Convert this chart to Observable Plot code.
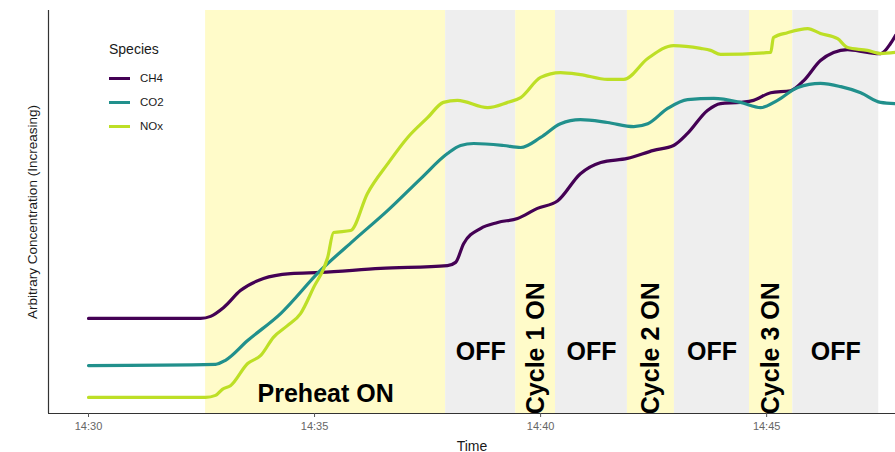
<!DOCTYPE html>
<html>
<head>
<meta charset="utf-8">
<script src="https://cdn.jsdelivr.net/npm/d3@7"></script>
<script src="https://cdn.jsdelivr.net/npm/@observablehq/plot@0.6"></script>
<style>
  html, body { margin: 0; padding: 0; background: #fff; }
  #wrap { position: relative; width: 895px; height: 452px; overflow: hidden; font-family: "Liberation Sans", Arial, sans-serif; }
  #legend { position: absolute; left: 109px; top: 41px; font-family: "Liberation Sans", Arial, sans-serif; }
  #legend .ttl { font-size: 14px; color: #1a1a1a; margin-bottom: 9px; }
  #legend .row { display: flex; align-items: center; height: 24px; font-size: 11.5px; color: #1a1a1a; }
  #legend .sw { width: 21px; height: 3px; margin-right: 10px; }
</style>
</head>
<body>
<div id="wrap"><div id="chart"></div><div id="legend"></div></div>
<script>
// ---- data (time = minutes after 14:30, value = arbitrary concentration 0..100) ----
const species = ["CH4", "CO2", "NOx"];
const speciesColors = ["#440154", "#21908C", "#BDDF26"];

const ch4Min = [0, 2.48, 2.70, 2.99, 3.36, 3.87, 4.47, 5.13, 6.46, 7.94, 8.12, 8.30, 8.67, 9.05, 9.49, 9.93, 10.38, 10.88, 11.33, 11.92, 12.50, 12.94, 13.25, 13.69, 13.98, 14.42, 14.71, 15.09, 15.53, 15.82, 16.19, 16.48, 16.79, 17.23, 17.52, 17.74, 17.85];
const ch4Val = [23.6, 23.6, 24.1, 26.3, 30.5, 33.5, 34.7, 35.0, 36.0, 36.7, 37.5, 42.2, 45.9, 47.4, 48.4, 50.9, 52.8, 59.5, 62.3, 63.3, 65.3, 66.5, 69.5, 75.2, 76.9, 77.2, 77.7, 79.6, 80.1, 82.6, 87.6, 89.6, 90.3, 89.6, 89.3, 91.8, 93.8];

const co2Min = [0, 2.81, 3.03, 3.52, 4.25, 5.13, 5.86, 6.62, 7.35, 7.94, 8.23, 8.52, 9.18, 9.56, 10.0, 10.44, 10.88, 11.48, 12.06, 12.37, 12.81, 13.25, 13.83, 14.42, 14.87, 15.24, 15.69, 16.19, 16.64, 17.08, 17.52, 17.85];
const co2Val = [11.9, 12.2, 13.2, 18.1, 24.8, 35.5, 42.9, 50.4, 58.3, 64.5, 66.5, 67.0, 66.5, 66.0, 68.5, 71.9, 72.9, 72.2, 71.2, 71.9, 75.7, 77.9, 78.2, 77.2, 75.9, 77.7, 80.9, 81.9, 81.1, 79.6, 77.2, 76.9];

const noxMin = [0, 2.59, 2.81, 2.96, 3.14, 3.52, 3.81, 4.09, 4.40, 4.69, 4.98, 5.29, 5.42, 5.80, 6.17, 6.62, 7.06, 7.50, 7.85, 8.16, 8.83, 9.27, 9.56, 10.0, 10.44, 10.88, 11.48, 11.84, 12.37, 12.94, 13.54, 13.76, 13.98, 15.09, 15.15, 15.46, 15.91, 16.19, 16.57, 16.79, 17.23, 17.52, 17.85];
const noxVal = [4.0, 4.0, 4.5, 6.0, 6.9, 12.4, 14.4, 18.9, 21.8, 24.8, 31.3, 38.7, 44.9, 45.4, 54.6, 62.0, 68.5, 73.4, 77.2, 77.7, 75.9, 77.2, 78.4, 83.4, 84.6, 84.1, 82.9, 82.9, 88.1, 91.3, 90.6, 90.1, 89.1, 89.6, 93.3, 94.5, 95.5, 94.3, 93.0, 90.8, 90.1, 89.3, 89.6];

// phases (background bands)
const phaseNames = ["Preheat ON", "OFF", "Cycle 1 ON", "OFF", "Cycle 2 ON", "OFF", "Cycle 3 ON", "OFF"];
const phaseStart = [2.59, 7.90, 9.45, 10.33, 11.92, 12.96, 14.62, 15.58];
const phaseEnd   = [7.90, 9.45, 10.33, 11.92, 12.96, 14.62, 15.58, 17.48];
const phaseOn    = [true, false, true, false, true, false, true, false];

const tickMinutes = [0, 5, 10, 15];
const tickLabels = ["14:30", "14:35", "14:40", "14:45"];
const xDomainMin = [-0.885, 17.85];

// ---- build ----
const base = Date.UTC(2020, 0, 1, 14, 30);
const toDate = m => new Date(base + m * 60000);

const series = [[ch4Min, ch4Val], [co2Min, co2Val], [noxMin, noxVal]];
const lineData = species.flatMap((s, i) =>
  series[i][0].map((m, j) => ({species: s, time: toDate(m), value: series[i][1][j]})));

const bands = phaseNames.map((n, i) => ({
  name: n, x1: toDate(phaseStart[i]), x2: toDate(phaseEnd[i]),
  mid: toDate((phaseStart[i] + phaseEnd[i]) / 2), on: phaseOn[i]
}));
const preheat = bands.filter((b, i) => i === 0);
const offs = bands.filter(b => !b.on);
const cycles = bands.filter((b, i) => b.on && i > 0);

const chart = Plot.plot({
  width: 895,
  height: 452,
  marginTop: 10,
  marginBottom: 39,
  marginLeft: 48,
  marginRight: 0,
  style: {fontFamily: "'Liberation Sans', Arial, sans-serif", background: "#fff"},
  x: {type: "utc", domain: xDomainMin.map(toDate)},
  y: {domain: [0, 100]},
  color: {domain: species, range: speciesColors},
  marks: [
    Plot.rect(bands, {x1: "x1", x2: "x2", fill: d => d.on ? "#FFFBC9" : "#EEEEEE"}),
    Plot.text(preheat, {x: "mid", y: 4.8, text: "name", fontSize: 25, fontWeight: "bold", fill: "#000"}),
    Plot.text(offs, {x: "mid", y: 15.2, text: "name", fontSize: 25, fontWeight: "bold", fill: "#000"}),
    Plot.text(cycles, {x: "mid", y: 16.2, text: "name", rotate: -90, fontSize: 25, fontWeight: "bold", fill: "#000"}),
    Plot.line(lineData, {x: "time", y: "value", stroke: "species", z: "species", curve: "monotone-x", strokeWidth: 3.2}),
    Plot.ruleY([0], {stroke: "#333", strokeWidth: 1.2}),
    Plot.ruleX([toDate(xDomainMin[0])], {stroke: "#333", strokeWidth: 1.2}),
    Plot.axisX({
      ticks: tickMinutes.map(toDate),
      tickFormat: d => tickLabels[tickMinutes.indexOf(Math.round((d - base) / 60000))],
      tickSize: 4, tickPadding: 5, stroke: "#555", color: "#666", fontSize: 11,
      label: null
    }),
    Plot.axisX({ticks: [], label: "Time", labelAnchor: "center", labelArrow: "none", labelOffset: 37, fontSize: 14, color: "#1a1a1a"}),
    Plot.axisY({ticks: [], label: "Arbitrary Concentration (Increasing)", labelAnchor: "center", labelArrow: "none", labelOffset: 21, fontSize: 13.5, color: "#1a1a1a"})
  ]
});
document.getElementById("chart").appendChild(chart);

// legend
const lg = document.getElementById("legend");
const t = document.createElement("div"); t.className = "ttl"; t.textContent = "Species"; lg.appendChild(t);
species.forEach((s, i) => {
  const r = document.createElement("div"); r.className = "row";
  const sw = document.createElement("div"); sw.className = "sw"; sw.style.background = speciesColors[i];
  const l = document.createElement("span"); l.textContent = s;
  r.appendChild(sw); r.appendChild(l); lg.appendChild(r);
});
</script>
</body>
</html>
